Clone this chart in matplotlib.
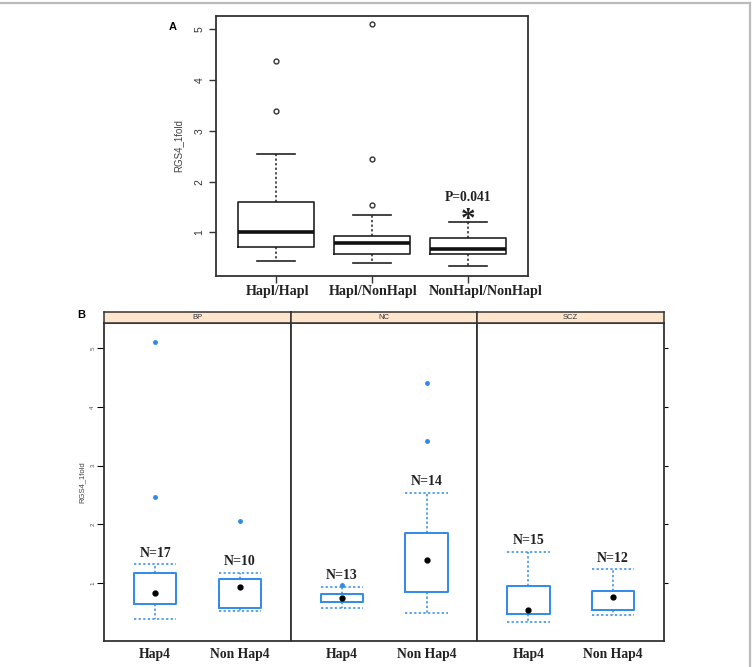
import matplotlib.pyplot as plt
from matplotlib.lines import Line2D

# ---- panel A data (RGS4_1fold by haplotype pair) ----
groups_a = ['Hapl/Hapl', 'Hapl/NonHapl', 'NonHapl/NonHapl']
q1_a = [0.716, 0.566, 0.566]
med_a = [1.01, 0.783, 0.67]
q3_a = [1.59, 0.933, 0.894]
lo_a = [0.44, 0.40, 0.34]
hi_a = [2.54, 1.34, 1.21]
out_a = [[3.39, 4.37], [1.54, 2.45, 5.10], []]
pval_text = 'P=0.041'

# ---- panel B data (by diagnosis and Hap4 status) ----
diagnoses = ['BP', 'NC', 'SCZ']
groups_b = ['Hap4', 'Non Hap4']
q1_b = [[0.638, 0.575], [0.672, 0.852], [0.478, 0.541]]
med_b = [[0.835, 0.927], [0.74, 1.39], [0.54, 0.757]]
q3_b = [[1.165, 1.073], [0.808, 1.845], [0.949, 0.869]]
lo_b = [[0.388, 0.52], [0.57, 0.495], [0.337, 0.45]]
hi_b = [[1.32, 1.18], [0.932, 2.54], [1.53, 1.233]]
out_b = [[[2.47, 5.11], [2.06]], [[0.97], [3.415, 4.40]], [[], []]]
n_b = [[17, 10], [13, 14], [15, 12]]

W, H = 753, 667
fig = plt.figure(figsize=(W / 100, H / 100), dpi=100)

serif = 'Liberation Serif'
sans = 'Liberation Sans'
blue = '#2f8ae8'
dots = (0, (1.5, 1.5))


def px(x0, y0, x1, y1):
    # pixel box -> figure fraction rect
    return [x0 / W, 1 - y1 / H, (x1 - x0) / W, (y1 - y0) / H]


# ---------------- panel A ----------------
axa = fig.add_axes(px(215.7, 15.7, 528, 275.7))
stats_a = []
for i, g in enumerate(groups_a):
    stats_a.append(dict(label=g, q1=q1_a[i], med=med_a[i], q3=q3_a[i],
                        whislo=lo_a[i], whishi=hi_a[i], fliers=out_a[i]))
axa.bxp(stats_a, positions=[1, 2, 3], widths=0.8, capwidths=0.4,
        boxprops=dict(color='#222222', lw=1.2),
        medianprops=dict(color='#111111', lw=2.6),
        whiskerprops=dict(color='#222222', lw=1.1, linestyle=dots),
        capprops=dict(color='#222222', lw=1.2),
        flierprops=dict(marker='o', ms=3.5, mfc='none', mec='#333333',
                        mew=1.0))
axa.set_xlim(0.372, 3.625)
axa.set_ylim(0.144, 5.272)
axa.set_yticks([1, 2, 3, 4, 5])
axa.set_yticklabels(['1', '2', '3', '4', '5'], rotation=90, va='center',
                    fontsize=7.5, family=sans, color='#333333')
axa.set_xticks([1, 2, 3])
axa.set_xticklabels([])
axa.tick_params(length=5, width=1.0, color='#333333', pad=3)
# group labels, the last one sits a bit right of its tick as in the figure
label_shift = [1, 1, 13]
for i, g in enumerate(groups_a):
    axa.annotate(g, xy=(i + 1, 0), xycoords=axa.get_xaxis_transform(),
                 xytext=(label_shift[i], -11.5), textcoords='offset points',
                 ha='center', va='center', fontsize=10.2, family=serif,
                 fontweight='bold', color='#222222')
axa.set_ylabel('RGS4_1fold', fontsize=7, family=sans, color='#444444',
               labelpad=8)
for s in axa.spines.values():
    s.set_linewidth(1.3)
    s.set_color('#333333')
axa.text(3, 1.69, pval_text, ha='center', va='center', fontsize=9.8,
         family=serif, fontweight='bold', color='#222222')
axa.text(3, 1.25, '*', ha='center', va='center', fontsize=21,
         family=serif, fontweight='bold', color='#222222')
fig.text(173 / W, 1 - 26.7 / H, 'A', ha='center', va='center',
         fontsize=8, fontweight='bold', family=sans)

# ---------------- panel B ----------------
x_left, x_right = 104.3, 664.0
pw = (x_right - x_left) / len(diagnoses)
for j, d in enumerate(diagnoses):
    ax = fig.add_axes(px(x_left + j * pw, 322.7, x_left + (j + 1) * pw, 640.7))
    stats = []
    for k, g in enumerate(groups_b):
        stats.append(dict(label=g, q1=q1_b[j][k], med=med_b[j][k],
                          q3=q3_b[j][k], whislo=lo_b[j][k],
                          whishi=hi_b[j][k], fliers=out_b[j][k],
                          mean=med_b[j][k]))
    ax.bxp(stats, positions=[1, 2], widths=0.5, capwidths=0.5,
           showmeans=True,
           boxprops=dict(color=blue, lw=1.4),
           medianprops=dict(linestyle='none'),
           meanprops=dict(marker='o', ms=3.5, mfc='black', mec='black'),
           whiskerprops=dict(color=blue, lw=1.1, linestyle=dots),
           capprops=dict(color=blue, lw=1.1, linestyle=dots),
           flierprops=dict(marker='o', ms=2.5, mfc=blue, mec=blue))
    for k in range(len(groups_b)):
        ax.text(k + 1, hi_b[j][k] + 0.19, 'N=%d' % n_b[j][k], ha='center',
                va='center', fontsize=10, family=serif, fontweight='bold',
                color='#222222')
    ax.set_xlim(0.4, 2.6)
    ax.set_ylim(0.02, 5.43)
    ax.set_xticks([1, 2])
    ax.set_xticklabels(groups_b, fontsize=9.8, family=serif,
                       fontweight='bold', color='#222222')
    ax.tick_params(axis='x', length=0, pad=5)
    ax.set_yticks([1, 2, 3, 4, 5])
    if j == 0:
        ax.set_yticklabels(['1', '2', '3', '4', '5'], rotation=90,
                           va='center', fontsize=4.5, family=sans,
                           color='#555555')
        ax.tick_params(axis='y', length=5, width=0.8, pad=1.5)
        ax.set_ylabel('RGS4_1fold', fontsize=5.5, family=sans,
                      color='#444444', labelpad=3)
    elif j == len(diagnoses) - 1:
        ax.yaxis.tick_right()
        ax.tick_params(axis='y', length=3, width=0.8, labelright=False)
    else:
        ax.tick_params(axis='y', length=0, labelleft=False)
    for s in ax.spines.values():
        s.set_linewidth(1.3)
        s.set_color('#333333')
    # strip on top of each panel
    st = fig.add_axes(px(x_left + j * pw, 311.7, x_left + (j + 1) * pw, 322.7))
    st.set_facecolor('#ffe5cc')
    st.set_xticks([])
    st.set_yticks([])
    for s in st.spines.values():
        s.set_linewidth(1.1)
        s.set_color('#333333')
    st.text(0.5, 0.5, d, ha='center', va='center', fontsize=5.5,
            family=sans, color='#333333', transform=st.transAxes)

fig.text(81.7 / W, 1 - 315 / H, 'B', ha='center', va='center',
         fontsize=8, fontweight='bold', family=sans)

# light grey frame lines at top and right of the figure
fig.add_artist(Line2D([0, 749.5 / W], [1 - 3 / H, 1 - 3 / H],
                      transform=fig.transFigure, color='#bbbbbb', lw=1.6))
fig.add_artist(Line2D([749.5 / W, 749.5 / W], [0, 1 - 3 / H],
                      transform=fig.transFigure, color='#bbbbbb', lw=1.6))

fig.savefig('out.png', dpi=100)
